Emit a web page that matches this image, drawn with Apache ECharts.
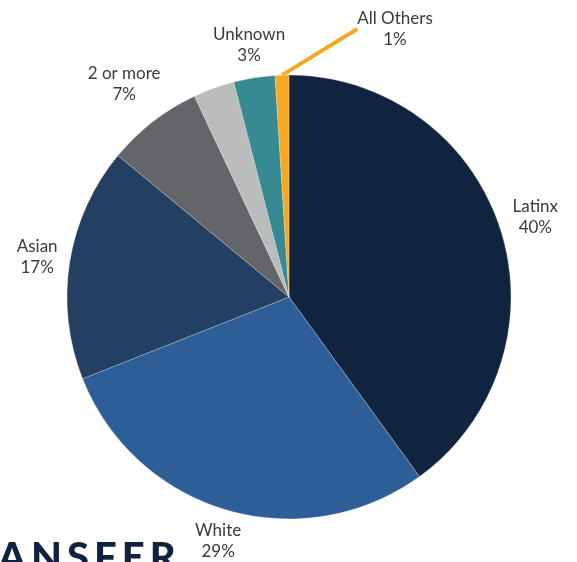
<!DOCTYPE html>
<html>
<head>
<meta charset="utf-8">
<script src="https://cdn.jsdelivr.net/npm/echarts@6/dist/echarts.min.js"></script>
<style>
  html, body { margin: 0; padding: 0; background: #fff; }
  #main { width: 577px; height: 562px; }
</style>
</head>
<body>
<div id="main"></div>
<script>
// slices, clockwise from 12 o'clock
var categories = ['Latinx', 'White', 'Asian', '2 or more', '', 'Unknown', 'All Others'];
var shares = [40, 29, 17, 7, 3, 3, 1];
var colors = ['#10233f', '#2e5e98', '#233f61', '#636569', '#bbbcbc', '#388a92', '#f7a823'];
// how far outside the rim each label sits
var labelGap = [37, 32, 33, 47, 33, 33, 20];

var dom = document.getElementById('main');
var chart = echarts.init(dom);

var pieData = categories.map(function (name, i) {
    return {
        name: name,
        value: shares[i],
        itemStyle: { color: colors[i] },
        label: { show: name !== '' },
        labelLine: { show: name === 'All Others', length: labelGap[i] }
    };
});

var gap = '\u200A\u200A';
var option = {
    animation: false,
    backgroundColor: '#fff',
    graphic: [{
        type: 'text',
        left: -2,
        top: 538,
        style: {
            text: ['A', 'N', 'S', 'F', 'E', 'R'].join(gap),
            font: '900 40px Lato',
            fill: '#0f2240'
        }
    }],
    series: [{
        type: 'pie',
        radius: 222,
        center: [289, 297],
        startAngle: 90,
        clockwise: true,
        avoidLabelOverlap: false,
        data: pieData,
        itemStyle: { borderColor: 'rgba(255,255,255,0.35)', borderWidth: 0.7 },
        label: {
            position: 'outside',
            formatter: function (p) { return p.name + '\n' + p.value + '%'; },
            fontFamily: 'Lato',
            fontSize: 17,
            lineHeight: 21,
            color: '#3a3a3a',
            distanceToLabelLine: 0
        },
        labelLine: {
            length2: 0,
            lineStyle: { color: '#f7a823', width: 4 }
        },
        labelLayout: function (p) {
            if (p.dataIndex === categories.length - 1) {
                return { x: 395, y: 29, align: 'center', verticalAlign: 'middle' };
            }
            return { align: 'center', verticalAlign: 'middle' };
        }
    }]
};
chart.setOption(option);
</script>
</body>
</html>
